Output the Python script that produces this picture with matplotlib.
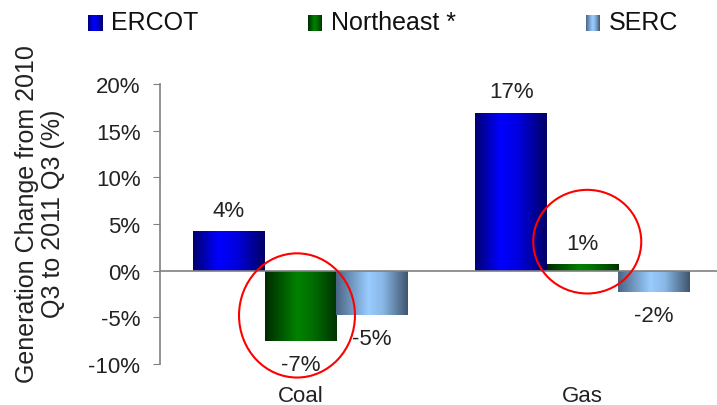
import numpy as np
import matplotlib
matplotlib.use('Agg')
import matplotlib.pyplot as plt
from matplotlib.colors import LinearSegmentedColormap
from matplotlib.patches import Ellipse

plt.rcParams.update({'font.family': ['Liberation Sans', 'DejaVu Sans'], 'font.size': 16})

categories = ['Coal', 'Gas']
series = ['ERCOT', 'Northeast *', 'SERC']
ercot = [4.2, 16.9]
northeast = [-7.5, 0.7]
serc = [-4.7, -2.3]
labels = [['4%', '17%'], ['-7%', '1%'], ['-5%', '-2%']]

# horizontal gradients (edge, highlight, edge)
grads = [
    [(0.0, '#00006e'), (0.35, '#0000ff'), (0.6, '#0000e0'), (1.0, '#000066')],
    [(0.0, '#002a00'), (0.45, '#008200'), (0.65, '#007000'), (1.0, '#003300')],
    [(0.0, '#4a6585'), (0.45, '#99ccff'), (0.65, '#8ab8e6'), (1.0, '#3e556e')],
]
cmaps = [LinearSegmentedColormap.from_list(f'g{i}', g) for i, g in enumerate(grads)]
grad_img = np.linspace(0, 1, 256).reshape(1, -1)

fig = plt.figure(figsize=(7.17, 4.06), dpi=100)
ax = fig.add_axes([0.223, 0.101, 0.777, 0.69])

x = np.arange(len(categories))
w = 0.253
for i, vals in enumerate([ercot, northeast, serc]):
    bars = ax.bar(x + (i - 1) * w, vals, width=w, color='none', edgecolor='none', zorder=2)
    for b, v, lab in zip(bars, vals, labels[i]):
        x0, y0 = b.get_x(), b.get_y()
        im = ax.imshow(grad_img, cmap=cmaps[i], aspect='auto', interpolation='bilinear',
                       extent=(x0, x0 + b.get_width(), y0, y0 + b.get_height()), zorder=2)
        im.set_clip_path(b)
        off = 15 if v >= 0 else -17
        ax.annotate(lab, (x0 + b.get_width() / 2, v), xytext=(0, off), textcoords='offset points',
                    ha='center', va='center', fontsize=16, color='#222222')

ax.axhline(0, color='#808080', lw=1.2, zorder=3)
ax.set_xlim(-0.498, 1.477)
ax.set_ylim(-10, 20)
ax.set_yticks(np.arange(-10, 21, 5))
ax.set_yticklabels([f'{t}%' for t in range(-10, 21, 5)])
ax.set_xticks(x)
ax.set_xticklabels(categories, fontsize=16, color='#222222')
ax.tick_params(axis='x', length=0, pad=15)
ax.tick_params(axis='y', length=5, color='#808080', direction='out', pad=9, labelcolor='#222222')
for s in ['top', 'right', 'bottom']:
    ax.spines[s].set_visible(False)
ax.spines['left'].set_color('#808080')
ax.spines['left'].set_linewidth(1.2)
fig.text(40 / 717, 1 - 214 / 406, 'Generation Change from 2010\nQ3 to 2011 Q3 (%)', rotation=90,
         fontsize=18, ha='center', va='center', multialignment='center', linespacing=1.15, color='#222222')

# red circles highlighting Northeast
for cx, cy, ew, eh in [(-0.012, -4.8, 0.411, 13.3), (1.017, 3.1, 0.383, 11.1)]:
    ax.add_patch(Ellipse((cx, cy), ew, eh, fill=False, edgecolor='red', lw=1.5, zorder=4, clip_on=False))

# legend with gradient swatches
leg_x = [88, 308, 586]
for i, name in enumerate(series):
    sax = fig.add_axes([leg_x[i] / 717, 1 - 32 / 406, 14 / 717, 16 / 406])
    sax.imshow(grad_img, cmap=cmaps[i], aspect='auto', interpolation='bilinear')
    sax.axis('off')
    fig.text((leg_x[i] + 23) / 717, 1 - 23 / 406, name, fontsize=18, va='center', ha='left', color='#111111')

plt.savefig('out.png', dpi=100)
